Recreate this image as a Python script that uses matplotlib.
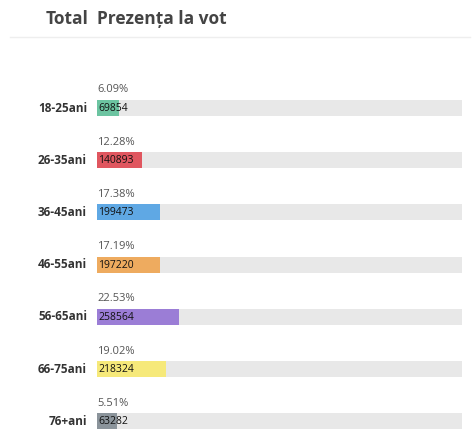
import matplotlib
matplotlib.use("Agg")
import matplotlib.pyplot as plt

categories = ["18-25ani", "26-35ani", "36-45ani", "46-55ani", "56-65ani", "66-75ani", "76+ani"]
percents = [6.09, 12.28, 17.38, 17.19, 22.53, 19.02, 5.51]
counts = [69854, 140893, 199473, 197220, 258564, 218324, 63282]
colors = ["#6cc4a1", "#e0565f", "#5fa8e4", "#eeab5f", "#9b7dd6", "#f6e97a", "#8b949b"]

W, H = 474, 448
fig = plt.figure(figsize=(W/100, H/100), dpi=100)
fig.patch.set_facecolor("white")
plt.rcParams['font.family'] = ['Open Sans', 'DejaVu Sans']

# axes: x from 97px to 462px, y from 60px to 440px
ax = fig.add_axes([97/W, 1-440/H, (462-97)/W, (440-60)/H])
ax.set_xlim(0, 100)
ax.set_ylim(440, 60)  # pixel-like y coordinates
ax.axis("off")

ys = [108 + i*52.2 for i in range(len(categories))]
bh = 16
for y, cat, p, c, col in zip(ys, categories, percents, counts, colors):
    ax.barh(y, 100, height=bh, color="#e8e8e8", left=0)
    ax.barh(y, p, height=bh, color=col, left=0)
    ax.text(0, y-18, f"{p:.2f}%", fontsize=8, color="#555555", va="center", ha="left")
    ax.text(0.3, y+0.5, f"{c}", fontsize=7.5, color="#111111", va="center", ha="left")
    fig.text(87/W, 1-y/H, cat, fontsize=8.5, fontweight="bold", color="#333333",
             ha="right", va="center")

fig.text(88/W, 1-19/H, "Total", fontsize=12.5, fontweight="bold", color="#444444",
         ha="right", va="center")
fig.text(97/W, 1-19/H, "Prezența la vot", fontsize=12.5, fontweight="bold", color="#444444",
         ha="left", va="center")
fig.add_artist(plt.Line2D([10/W, 470/W], [1-37/H, 1-37/H], color="#eeeeee", lw=1))

fig.savefig("out.png", dpi=100)
